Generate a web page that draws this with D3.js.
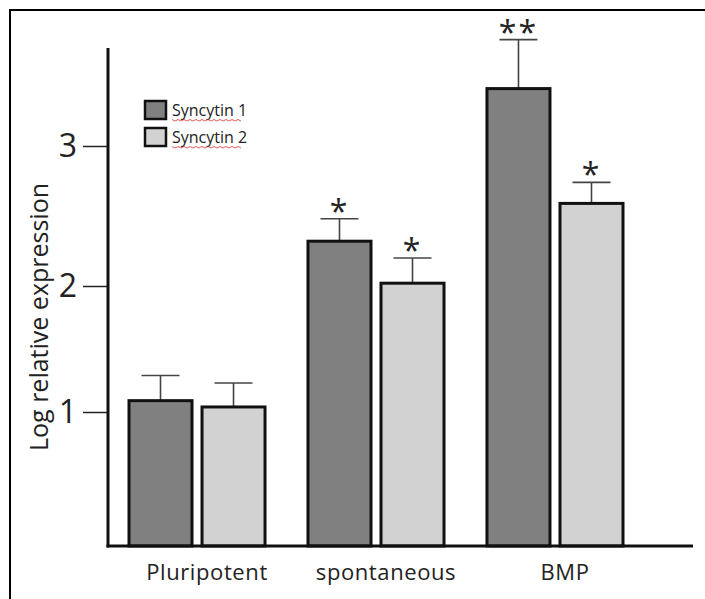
<!DOCTYPE html>
<html>
<head>
<meta charset="utf-8">
<script src="https://cdn.jsdelivr.net/npm/d3@7"></script>
<style>
  body { margin: 0; background: #fff; }
  text { font-family: "Open Sans", "Noto Sans", sans-serif; fill: #222; }
</style>
</head>
<body>
<div id="chart"></div>
<script>
// chart values
const categories = ["Pluripotent", "spontaneous", "BMP"];
const seriesNames = ["Syncytin 1", "Syncytin 2"];
const syncytin1 = [1.09, 2.32, 3.41];
const syncytin2 = [1.04, 2.02, 2.59];
const syncytin1Err = [0.20, 0.16, 0.35];
const syncytin2Err = [0.19, 0.18, 0.15];
const syncytin1Sig = ["", "*", "**"];
const syncytin2Sig = ["", "*", "*"];
const yTicks = [1, 2, 3];

const width = 705;
const height = 599;
const colors = ["#808080", "#d2d2d2"];

const svg = d3.select("#chart")
  .append("svg")
  .attr("width", width)
  .attr("height", height);

// frame (only top and left edges show in the picture)
svg.append("path")
  .attr("d", "M10,599 V10 H705")
  .attr("fill", "none")
  .attr("stroke", "#000")
  .attr("stroke-width", 2);

// the drawn axis is not evenly spaced, so use a piecewise scale
const y = d3.scaleLinear()
  .domain([0, 1, 2, 3, 3.7])
  .range([546, 412, 286, 146, 48]);

const x0 = d3.scaleBand()
  .domain(categories)
  .range([129, 623])
  .paddingInner(0.24);

const x1 = d3.scaleBand()
  .domain(seriesNames)
  .range([0, x0.bandwidth()])
  .paddingInner(0.137);

// table built from the arrays
const rows = [];
categories.forEach((c, i) => {
  rows.push({cat: c, s: seriesNames[0], v: syncytin1[i], e: syncytin1Err[i], sig: syncytin1Sig[i], k: 0});
  rows.push({cat: c, s: seriesNames[1], v: syncytin2[i], e: syncytin2Err[i], sig: syncytin2Sig[i], k: 1});
});

const cx = d => x0(d.cat) + x1(d.s) + x1.bandwidth() / 2;

// error bars (drawn under the bars)
const err = svg.append("g")
  .attr("stroke", "#444")
  .attr("stroke-width", 1.6);

err.selectAll("line.stem")
  .data(rows)
  .join("line")
  .attr("class", "stem")
  .attr("x1", cx).attr("x2", cx)
  .attr("y1", d => y(d.v))
  .attr("y2", d => y(d.v + d.e));

err.selectAll("line.cap")
  .data(rows)
  .join("line")
  .attr("class", "cap")
  .attr("x1", d => cx(d) - 19)
  .attr("x2", d => cx(d) + 19)
  .attr("y1", d => y(d.v + d.e))
  .attr("y2", d => y(d.v + d.e));

// bars
svg.append("g")
  .selectAll("rect")
  .data(rows)
  .join("rect")
  .attr("x", d => x0(d.cat) + x1(d.s))
  .attr("y", d => y(d.v))
  .attr("width", x1.bandwidth())
  .attr("height", d => y(0) - y(d.v))
  .attr("fill", d => colors[d.k])
  .attr("stroke", "#111")
  .attr("stroke-width", 3);

// significance stars
svg.append("g")
  .selectAll("text")
  .data(rows.filter(d => d.sig))
  .join("text")
  .attr("x", cx)
  .attr("y", d => y(d.v + d.e) + 4)
  .attr("text-anchor", "middle")
  .attr("font-size", 32)
  .attr("letter-spacing", 2)
  .text(d => d.sig);

// y axis
const yAxis = svg.append("g")
  .attr("transform", "translate(108,0)")
  .call(d3.axisLeft(y).tickValues(yTicks).tickSize(25).tickPadding(6).tickFormat(d3.format("d")));
yAxis.select(".domain").remove();
yAxis.selectAll(".tick line").attr("stroke", "#222").attr("stroke-width", 1.5);
yAxis.selectAll(".tick text")
  .attr("font-size", 32)
  .attr("fill", "#222")
  .style("font-family", "'Open Sans', sans-serif");

svg.append("line")
  .attr("x1", 108).attr("x2", 108)
  .attr("y1", y(3.7)).attr("y2", y(0) + 1.5)
  .attr("stroke", "#111").attr("stroke-width", 3);

// x axis line
svg.append("line")
  .attr("x1", 106.5).attr("x2", 693)
  .attr("y1", y(0)).attr("y2", y(0))
  .attr("stroke", "#111").attr("stroke-width", 3);

// category labels
svg.append("g")
  .selectAll("text")
  .data(categories)
  .join("text")
  .attr("x", d => x0(d) + x0.bandwidth() / 2 + 10)
  .attr("y", 580)
  .attr("text-anchor", "middle")
  .attr("font-size", 22)
  .attr("letter-spacing", 0.6)
  .text(d => d);

// y axis title
svg.append("text")
  .attr("transform", "translate(48," + ((y(0) + y(3.7)) / 2 + 20) + ") rotate(-90)")
  .attr("text-anchor", "middle")
  .attr("font-size", 25)
  .text("Log relative expression");

// legend
const legend = svg.append("g")
  .selectAll("g")
  .data(seriesNames)
  .join("g")
  .attr("transform", (d, i) => "translate(145," + (101 + i * 27) + ")");

legend.append("rect")
  .attr("width", 21)
  .attr("height", 18)
  .attr("fill", (d, i) => colors[i])
  .attr("stroke", "#111")
  .attr("stroke-width", 2.5);

legend.append("text")
  .attr("x", 27)
  .attr("y", 15)
  .attr("font-size", 16)
  .text(d => d);

// spell-check squiggle under the legend words
legend.append("path")
  .attr("d", d3.range(0, 72, 3).map((v, i) => (i ? "L" : "M") + (27 + v) + "," + (18.5 + (i % 2 ? 1.5 : 0))).join(""))
  .attr("fill", "none")
  .attr("stroke", "#e03030")
  .attr("stroke-width", 0.8);
</script>
</body>
</html>
